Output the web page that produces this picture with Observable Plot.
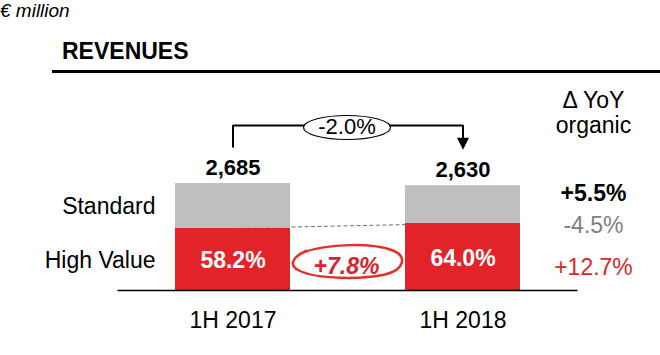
<!DOCTYPE html>
<html><head><meta charset="utf-8">
<script src="https://cdn.jsdelivr.net/npm/d3@7"></script>
<script src="https://cdn.jsdelivr.net/npm/@observablehq/plot@0.6"></script>
<style>
body{margin:0;background:#fff;font-family:"Liberation Sans",Arial,sans-serif;color:#000}
#wrap{width:660px;height:355px;position:relative;overflow:hidden}
#head{position:relative;height:75px}
#unit{position:absolute;left:0;top:1px;font-style:italic;font-size:19px;line-height:19px}
#title{position:absolute;left:62px;top:40px;font-weight:bold;font-size:23px;line-height:23px}
#rule{position:absolute;left:52px;top:70px;width:608px;height:2.5px;background:#000}
#chart svg{display:block;overflow:visible}
</style></head>
<body>
<div id="wrap">
  <div id="head">
    <div id="unit">€ million</div>
    <div id="title">REVENUES</div>
    <div id="rule"></div>
  </div>
  <div id="chart"></div>
</div>
<script>
// ---- data ----
const periods = ["1H 2017", "1H 2018"];
const totals = [2685, 2630];
const highValueShare = [58.2, 64.0];
const segments = ["High Value", "Standard"];
const yoyChange = "-2.0%";
const highValueGrowth = "+7.8%";
const organicHeader = ["Δ YoY", "organic"];
const organicValues = ["+5.5%", "-4.5%", "+12.7%"];

// ---- styles ----
const RED = "#e2242a", GREY = "#bfbfbf";
const FONT = '"Liberation Sans", Arial, sans-serif';

// ---- derived tables ----
const rows = periods.flatMap((p, i) => {
  const hv = totals[i] * highValueShare[i] / 100;
  return [
    {period: p, segment: segments[0], y1: 0, y2: hv, mid: hv / 2, share: highValueShare[i]},
    {period: p, segment: segments[1], y1: hv, y2: totals[i], mid: (hv + totals[i]) / 2}
  ];
});
const hvRows = rows.filter(d => d.segment === segments[0]);
const firstRows = rows.filter(d => d.period === periods[0]);
const totalRows = periods.map((p, i) => ({period: p, total: totals[i]}));
const maxTotal = d3.max(totals);
const pair = [{a: periods[0], b: periods[1], ta: totals[0], tb: totals[1], ha: hvRows[0].y2, hb: hvRows[1].y2}];

// bracket curve: up from first point, across, down to second point
function bracketCurve(context) {
  const pts = [];
  return {
    areaStart() {}, areaEnd() {},
    lineStart() { pts.length = 0; },
    point(x, y) { pts.push([x, y]); },
    lineEnd() {
      const [a, b] = pts;
      const top = Math.min(a[1], b[1]) - 58;
      context.moveTo(a[0], a[1] - 36);
      context.lineTo(a[0], top);
      context.lineTo(b[0], top);
      context.lineTo(b[0], b[1] - 44);
    }
  };
}
const ellipseSymbol = (rx, ry) => ({
  draw(ctx) {
    const k = 0.5523;
    ctx.moveTo(rx, 0);
    ctx.bezierCurveTo(rx, ry * k, rx * k, ry, 0, ry);
    ctx.bezierCurveTo(-rx * k, ry, -rx, ry * k, -rx, 0);
    ctx.bezierCurveTo(-rx, -ry * k, -rx * k, -ry, 0, -ry);
    ctx.bezierCurveTo(rx * k, -ry, rx, -ry * k, rx, 0);
    ctx.closePath();
  }
});
const loopSymbol = {
  draw(ctx) {
    ctx.moveTo(-44, -9);
    ctx.bezierCurveTo(-20, -18, 25, -19, 46, -11);
    ctx.bezierCurveTo(60, -5, 58, 8, 38, 13);
    ctx.bezierCurveTo(15, 18, -30, 18, -48, 9);
    ctx.bezierCurveTo(-58, 4, -56, -4, -40, -11);
  }
};
const arrowSymbol = {
  draw(ctx) {
    ctx.moveTo(-6, -6); ctx.lineTo(6, -6); ctx.lineTo(0, 6); ctx.closePath();
  }
};

const chart = Plot.plot({
  width: 660, height: 280,
  marginLeft: 117.5, marginRight: 82.5, marginTop: 108, marginBottom: 65,
  style: {fontFamily: FONT, fontSize: "23px", color: "#000", background: "#fff"},
  x: {domain: periods, paddingInner: 0.5, paddingOuter: 0.25},
  y: {domain: [0, maxTotal], axis: null},
  color: {domain: segments, range: [RED, GREY]},
  marks: [
    Plot.link(pair, {x1: "a", x2: "b", y1: "ha", y2: "hb", stroke: "#6f6f6f", strokeWidth: 1, strokeDasharray: "4,2.5"}),
    Plot.barY(rows, {x: "period", y1: "y1", y2: "y2", fill: "segment"}),
    Plot.ruleY([0], {stroke: "#000", strokeWidth: 1.5}),
    Plot.axisX({tickSize: 0, tickPadding: 21, fontSize: 23, fill: "#000"}),
    Plot.text(totalRows, {x: "period", y: "total", text: d => d3.format(",")(d.total), lineAnchor: "bottom", dy: -9, fontWeight: "bold", fontSize: 22, fill: "#000"}),
    Plot.text(hvRows, {x: "period", y: "mid", text: d => d.share.toFixed(1) + "%", lineAnchor: "bottom", dy: 9, fontWeight: "bold", fontSize: 23, fill: "#fff"}),
    Plot.text(firstRows, {y: "mid", text: "segment", frameAnchor: "left", textAnchor: "end", lineAnchor: "bottom", dx: 37.5, dy: 8.5, fontSize: 23, fill: "#000"}),
    Plot.link(pair, {x1: "a", x2: "b", y1: "ta", y2: "tb", curve: bracketCurve, stroke: "#000", strokeWidth: 2}),
    Plot.dot(pair, {x: "b", y: "tb", symbol: arrowSymbol, dy: -42, fill: "#000", stroke: "none"}),
    Plot.dot([yoyChange], {y: () => maxTotal, frameAnchor: "middle", dx: -1, dy: -56, symbol: ellipseSymbol(43.5, 12), fill: "#fff", stroke: "#000", strokeWidth: 1.2}),
    Plot.text([yoyChange], {y: () => maxTotal, text: d => d, frameAnchor: "middle", textAnchor: "middle", lineAnchor: "bottom", dx: -1, dy: -50, fontSize: 22, fill: "#000"}),
    Plot.dot([highValueGrowth], {y: () => 0, frameAnchor: "middle", dx: -1, dy: -29, symbol: loopSymbol, fill: "none", stroke: "#e0312a", strokeWidth: 2.5}),
    Plot.text([highValueGrowth], {y: () => 0, text: d => d, frameAnchor: "middle", textAnchor: "middle", lineAnchor: "bottom", dx: -1.5, dy: -17, fontSize: 23, fontWeight: "bold", fontStyle: "italic", fill: "#d8232a"}),
    Plot.text([organicHeader.join("\n")], {y: () => maxTotal, text: d => d, frameAnchor: "right", textAnchor: "middle", lineAnchor: "bottom", lineHeight: 1.087, dx: 15.5, dy: -51, fontSize: 23, fill: "#000"}),
    Plot.text([organicValues[0]], {y: () => maxTotal, text: d => d, frameAnchor: "right", textAnchor: "middle", lineAnchor: "bottom", dx: 15.5, dy: 17, fontSize: 23, fontWeight: "bold", fill: "#000"}),
    Plot.text([organicValues[1]], {y: () => maxTotal, text: d => d, frameAnchor: "right", textAnchor: "middle", lineAnchor: "bottom", dx: 15.5, dy: 49, fontSize: 23, fill: "#808080"}),
    Plot.text([organicValues[2]], {y: () => maxTotal, text: d => d, frameAnchor: "right", textAnchor: "middle", lineAnchor: "bottom", dx: 15.5, dy: 91, fontSize: 23, fill: "#e2242a"})
  ]
});
document.getElementById("chart").appendChild(chart);
</script>
</body></html>
